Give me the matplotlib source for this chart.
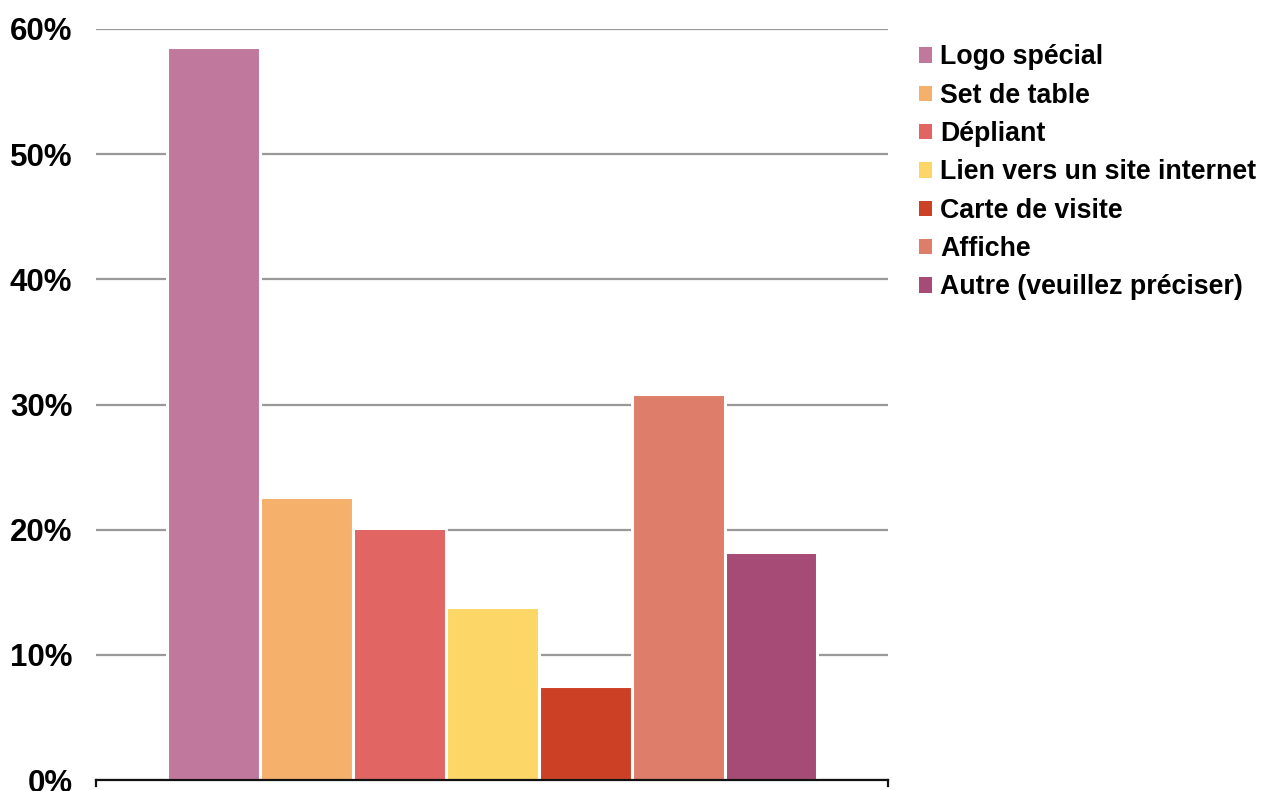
import matplotlib
matplotlib.use("Agg")
import matplotlib.pyplot as plt
from matplotlib.patches import Patch
from matplotlib.ticker import FuncFormatter

plt.rcParams["font.family"] = ["Liberation Sans", "DejaVu Sans"]
plt.rcParams["font.weight"] = "bold"

labels = ["Logo spécial", "Set de table", "Dépliant", "Lien vers un site internet",
          "Carte de visite", "Affiche", "Autre (veuillez préciser)"]
shares = [0.586, 0.226, 0.201, 0.138, 0.075, 0.308, 0.182]
colors = ["#C0799D", "#F5B06C", "#E06563", "#FCD666", "#CC4125", "#DE7D6A", "#A54B76"]
yticks = [0, 0.1, 0.2, 0.3, 0.4, 0.5, 0.6]

fig = plt.figure(figsize=(12.62, 7.91), dpi=100)
ax = fig.add_axes([96 / 1262, 1 - 780 / 791, 792 / 1262, 751 / 791])

x = list(range(len(shares)))
ax.bar(x, shares, width=1.0, color=colors, edgecolor="white", linewidth=2.2, zorder=3)

ax.set_xlim(-1.27, 7.26)
ax.set_ylim(0, 0.6)
ax.set_yticks(yticks)
ax.yaxis.set_major_formatter(FuncFormatter(lambda v, _: f"{v * 100:.0f}%"))
ax.tick_params(axis="y", length=0, pad=17, labelsize=22.5)
ax.set_xticks([])
ax.grid(axis="y", color="#999999", lw=1.6, zorder=0)

for s in ("left", "right", "top"):
    ax.spines[s].set_visible(False)
ax.spines["bottom"].set_linewidth(1.6)
ax.spines["bottom"].set_color("#111111")
ax.spines["bottom"].set_zorder(5)
# small end ticks on the baseline
for xe in ax.get_xlim():
    ax.plot([xe, xe], [0, -0.005], color="#111111", lw=1.6, clip_on=False, zorder=5)

handles = [Patch(facecolor=c, edgecolor="none") for c in colors]
fig.legend(handles, labels, loc="upper left", bbox_to_anchor=(919 / 1262, 1 - 44.5 / 791),
           frameon=False, fontsize=19.3, handlelength=0.5, handleheight=0.5,
           handletextpad=0.3, labelspacing=0.46, borderaxespad=0, borderpad=0)

fig.savefig("out.png", dpi=100)
